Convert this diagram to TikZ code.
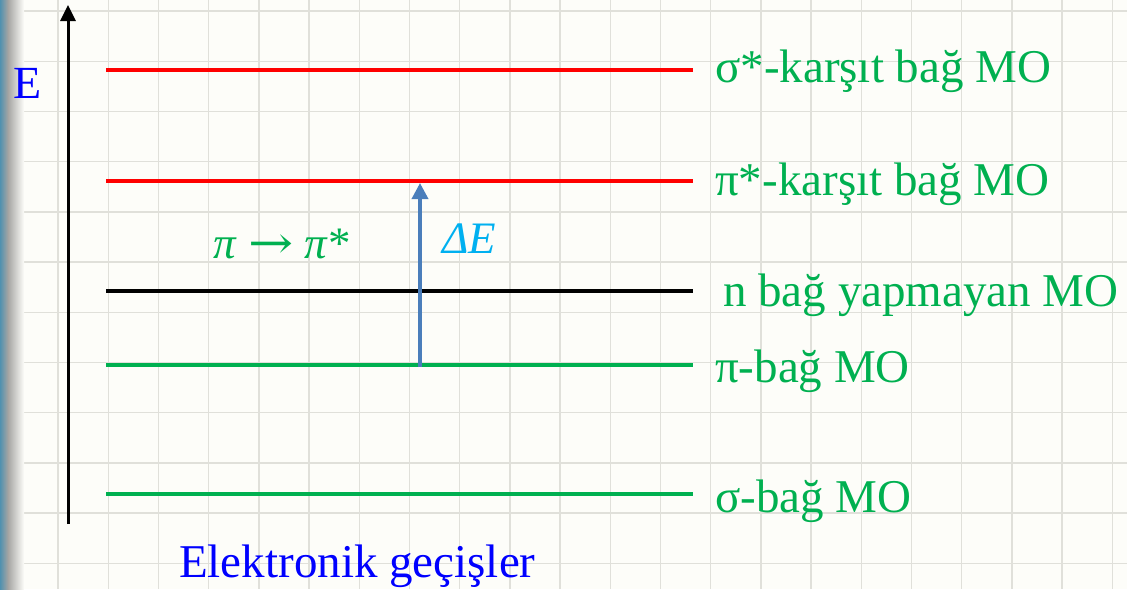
\documentclass[tikz,border=0pt]{standalone}
\usepackage{fontspec}
\setmainfont{Liberation Serif}
\newfontfamily\arrowfont{DejaVu Serif}
\usetikzlibrary{arrows.meta}
\definecolor{bg}{RGB}{253,253,249}
\definecolor{gridc}{RGB}{224,224,218}
\definecolor{mogreen}{RGB}{0,176,80}
\definecolor{mored}{RGB}{255,0,0}
\definecolor{dEblue}{RGB}{0,176,240}
\definecolor{arrowblue}{RGB}{74,126,187}
\definecolor{barblue}{RGB}{80,145,175}
\definecolor{bargray}{RGB}{165,165,163}
\begin{document}
\begin{tikzpicture}[x=1pt,y=-1pt,
  gridline/.style={draw=gridc, line width=1.4pt},
  level/.style={line width=3.6pt},
  lab/.style={anchor=base west, inner sep=0pt, text=mogreen, font=\fontsize{47}{56}\selectfont},
  bigblue/.style={anchor=base west, inner sep=0pt, text=blue, font=\fontsize{47}{56}\selectfont}]
\useasboundingbox (0,0) rectangle (1127,589);
\fill[bg] (0,0) rectangle (1127,589);
% grid
\foreach \i in {0,...,22} {\draw[gridline] ({7.8+50.2*\i},0) -- ({7.8+50.2*\i},589);}
\foreach \j in {0,...,11} {\draw[gridline] (0,{11+50.2*\j}) -- (1127,{11+50.2*\j});}
% left bar
\shade[left color=barblue, right color=bargray] (0,0) rectangle (8,589);
\shade[left color=bargray, right color=bg] (8,0) rectangle (24,589);
% axis
\coordinate (axB) at (68,524);
\coordinate (axT) at (68,5);
\draw[line width=3pt, -{Triangle[width=15pt,length=16pt]}] (axB) -- (axT);
\node[bigblue, font=\fontsize{46}{55}\selectfont] (Elab) at (13,98) {E};
% levels
\coordinate (l1a) at (106,70);  \coordinate (l1b) at (693,70);
\coordinate (l2a) at (106,181); \coordinate (l2b) at (693,181);
\coordinate (l3a) at (106,291); \coordinate (l3b) at (693,291);
\coordinate (l4a) at (106,365); \coordinate (l4b) at (693,365);
\coordinate (l5a) at (106,494); \coordinate (l5b) at (693,494);
\draw[level, mored] (l1a) -- (l1b);
\draw[level, mored] (l2a) -- (l2b);
\draw[level, black] (l3a) -- (l3b);
\draw[level, mogreen] (l4a) -- (l4b);
\draw[level, mogreen] (l5a) -- (l5b);
% level labels
\node[lab] (t1) at (715,82) {σ*-karşıt bağ MO};
\node[lab] (t2) at (715,195) {π*-karşıt bağ MO};
\node[lab] (t3) at (723,306) {n bağ yapmayan MO};
\node[lab] (t4) at (715,382) {π-bağ MO};
\node[lab] (t5) at (715,512) {σ-bağ MO};
% transition
\coordinate (dEbot) at (420,367);
\coordinate (dEtop) at (420,183);
\draw[arrowblue, line width=3.5pt, -{Triangle[width=16pt,length=16pt]}] (dEbot) -- (dEtop);
\node[anchor=base west, inner sep=0pt, text=dEblue, font=\fontsize{45}{54}\selectfont\itshape] (dE) at (442,253) {ΔE};
\node[anchor=base west, inner sep=0pt, text=mogreen, font=\fontsize{45}{54}\selectfont] (pp) at (213,258) {\textit{π} \scalebox{1.2}[1]{\arrowfont →} \textit{π}*};
% caption
\node[bigblue] (cap) at (179,577) {Elektronik geçişler};
\end{tikzpicture}
\end{document}
